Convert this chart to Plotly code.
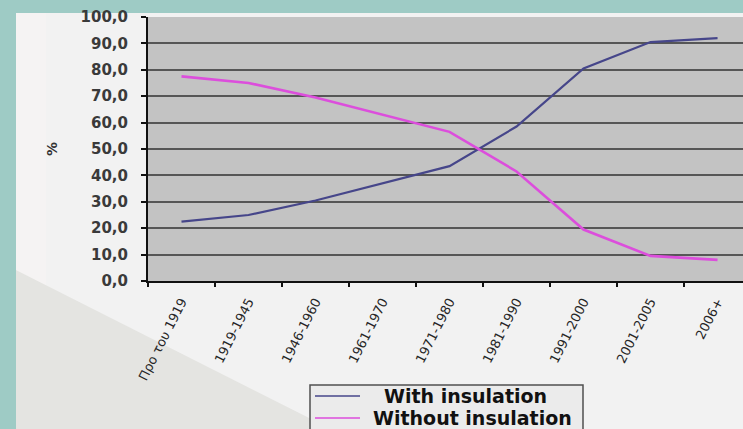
import plotly.graph_objects as go

# Share of dwellings with / without thermal insulation by construction period
periods = ["Προ του 1919", "1919-1945", "1946-1960", "1961-1970", "1971-1980",
           "1981-1990", "1991-2000", "2001-2005", "2006+"]
with_insulation = [22.5, 25.0, 30.5, 37.0, 43.5, 58.5, 80.5, 90.5, 92.0]
without_insulation = [77.5, 75.0, 69.5, 63.0, 56.5, 41.5, 19.5, 9.5, 8.0]
y_ticks = [0, 10, 20, 30, 40, 50, 60, 70, 80, 90, 100]

series = [
    ("With insulation", with_insulation, "#46468a", 2.2),
    ("Without insulation", without_insulation, "#dc4edc", 2.6),
]

W, H = 743, 429
ML, MR, MT, MB = 148, 0, 17, 148


def px_paper(px, py):
    """pixel position in the page -> paper coordinates of the plot area"""
    return (px - ML) / (W - ML - MR), (H - MB - py) / (H - MT - MB)


fig = go.Figure()
for name, values, color, width in series:
    fig.add_trace(go.Scatter(
        x=periods, y=values, mode="lines", name=name,
        line=dict(color=color, width=width), showlegend=False,
    ))

# frame decoration: pale left strip, grey corner wedge and teal bands
sx0, sy0 = px_paper(16, H)
sx1, sy1 = px_paper(46, 13)
wx0, wy0 = px_paper(0, 262)
wx1, wy1 = px_paper(331, H)
bx0, by0 = px_paper(0, 0)
bx1, by1 = px_paper(W, 13)
lx1, _ = px_paper(16, 0)
shapes = [
    dict(type="rect", xref="paper", yref="paper", layer="below",
         x0=sx0, x1=sx1, y0=sy0, y1=sy1, fillcolor="#f5f3f3", line=dict(width=0)),
    dict(type="path", xref="paper", yref="paper", layer="below",
         path=f"M {wx0},{wy0} L {wx1},{wy1} L {wx0},{wy1} Z",
         fillcolor="#e4e4e1", line=dict(width=0)),
    dict(type="rect", xref="paper", yref="paper", layer="below",
         x0=bx0, x1=bx1, y0=by0, y1=by1, fillcolor="#9ecbc5", line=dict(width=0)),
    dict(type="rect", xref="paper", yref="paper", layer="below",
         x0=bx0, x1=lx1, y0=by0, y1=wy1, fillcolor="#9ecbc5", line=dict(width=0)),
]

# legend box drawn below the chart
lg = px_paper(310, 385) + px_paper(583, 440)
shapes.append(dict(type="rect", xref="paper", yref="paper", layer="above",
                   x0=lg[0], y0=lg[1], x1=lg[2], y1=lg[3],
                   fillcolor="#ebebeb", line=dict(color="#505050", width=1.5)))

annotations = []
row_y = [396, 418]
text_center = [465, 473]
for (name, _, color, width), ry, tc in zip(series, row_y, text_center):
    lx0, ly = px_paper(315, ry)
    lxe, _ = px_paper(360, ry)
    shapes.append(dict(type="line", xref="paper", yref="paper", layer="above",
                       x0=lx0, x1=lxe, y0=ly, y1=ly,
                       line=dict(color=color, width=1.6)))
    tx, _ = px_paper(tc, ry)
    annotations.append(dict(
        xref="paper", yref="paper", x=tx, y=ly, text=name, showarrow=False,
        xanchor="center", yanchor="middle",
        font=dict(family="DejaVu Sans", size=19, color="#111111", weight="bold"),
    ))

fig.update_layout(
    width=W, height=H,
    margin=dict(l=ML, r=MR, t=MT, b=MB, pad=0),
    paper_bgcolor="#f2f2f2",
    plot_bgcolor="#c3c3c3",
    separators=",.",
    shapes=shapes,
    annotations=annotations,
    showlegend=False,
    xaxis=dict(
        type="category", range=[-0.5, 8.38], automargin=False,
        showgrid=False, showline=True, linecolor="#111111", linewidth=2,
        ticks="outside", tickson="boundaries", ticklen=4, tickcolor="#111111",
        tickwidth=1.5, tickangle=-63, ticklabelstandoff=6,
        tickfont=dict(family="DejaVu Sans", size=13, color="#262626"),
    ),
    yaxis=dict(
        range=[0, 100], tickvals=y_ticks, tickformat=".1f", automargin=False,
        showgrid=True, gridcolor="#565656", gridwidth=1.6,
        showline=True, linecolor="#111111", linewidth=2,
        ticks="outside", ticklen=5, tickcolor="#111111", tickwidth=1.5,
        ticklabelstandoff=10,
        tickfont=dict(family="DejaVu Sans", size=15, color="#3a3a3a", weight="bold"),
        title=dict(text="%", standoff=20,
                   font=dict(family="DejaVu Sans", size=14, color="#333333", weight="bold")),
        zeroline=False,
    ),
)

fig.write_html("out.html")
